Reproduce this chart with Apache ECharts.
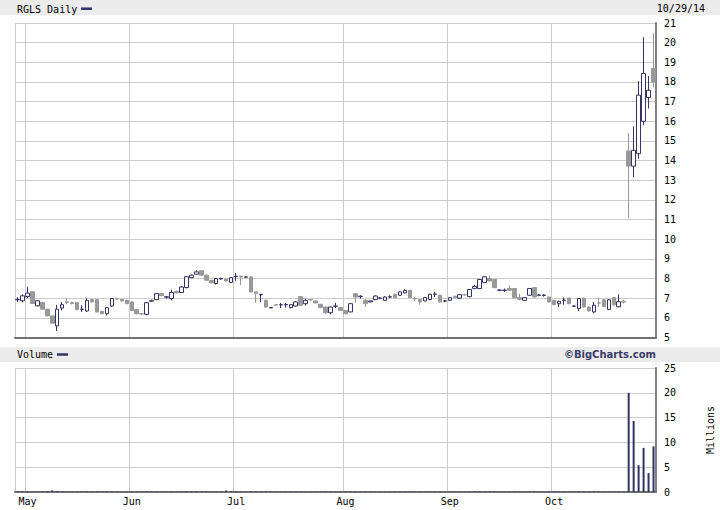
<!DOCTYPE html>
<html><head><meta charset="utf-8">
<script src="https://cdn.jsdelivr.net/npm/echarts@6/dist/echarts.min.js"></script>
<style>html,body{margin:0;padding:0;background:#fff}#c{width:720px;height:510px}</style>
</head><body><div id="c"></div>
<script>
const dates = [
'2014-04-29','2014-04-30',
'2014-05-01','2014-05-02','2014-05-05','2014-05-06','2014-05-07','2014-05-08','2014-05-09','2014-05-12','2014-05-13','2014-05-14','2014-05-15','2014-05-16','2014-05-19','2014-05-20','2014-05-21','2014-05-22','2014-05-23','2014-05-27','2014-05-28','2014-05-29','2014-05-30',
'2014-06-02','2014-06-03','2014-06-04','2014-06-05','2014-06-06','2014-06-09','2014-06-10','2014-06-11','2014-06-12','2014-06-13','2014-06-16','2014-06-17','2014-06-18','2014-06-19','2014-06-20','2014-06-23','2014-06-24','2014-06-25','2014-06-26','2014-06-27','2014-06-30',
'2014-07-01','2014-07-02','2014-07-03','2014-07-07','2014-07-08','2014-07-09','2014-07-10','2014-07-11','2014-07-14','2014-07-15','2014-07-16','2014-07-17','2014-07-18','2014-07-21','2014-07-22','2014-07-23','2014-07-24','2014-07-25','2014-07-28','2014-07-29','2014-07-30','2014-07-31',
'2014-08-01','2014-08-04','2014-08-05','2014-08-06','2014-08-07','2014-08-08','2014-08-11','2014-08-12','2014-08-13','2014-08-14','2014-08-15','2014-08-18','2014-08-19','2014-08-20','2014-08-21','2014-08-22','2014-08-25','2014-08-26','2014-08-27','2014-08-28','2014-08-29',
'2014-09-02','2014-09-03','2014-09-04','2014-09-05','2014-09-08','2014-09-09','2014-09-10','2014-09-11','2014-09-12','2014-09-15','2014-09-16','2014-09-17','2014-09-18','2014-09-19','2014-09-22','2014-09-23','2014-09-24','2014-09-25','2014-09-26','2014-09-29','2014-09-30',
'2014-10-01','2014-10-02','2014-10-03','2014-10-06','2014-10-07','2014-10-08','2014-10-09','2014-10-10','2014-10-13','2014-10-14','2014-10-15','2014-10-16','2014-10-17','2014-10-20','2014-10-21','2014-10-22','2014-10-23','2014-10-24','2014-10-27','2014-10-28','2014-10-29'
];
const opens = [
6.92,6.87,7.09,7.33,6.61,6.78,6.44,6.10,5.59,6.50,
6.82,6.78,6.77,6.43,6.35,6.93,6.93,6.33,6.21,6.60,
6.98,6.93,6.89,6.81,6.42,6.22,6.18,6.85,6.93,7.23,
7.05,6.98,7.35,7.29,7.54,8.05,8.22,8.40,8.17,7.91,
7.74,7.98,7.97,7.80,8.10,8.12,8.07,8.08,7.32,7.17,
6.89,6.51,6.67,6.66,6.66,6.52,6.60,7.08,6.72,6.93,
6.86,6.69,6.55,6.26,6.59,6.52,6.38,6.30,7.23,7.08,
6.89,6.81,6.93,7.00,6.89,7.06,7.20,7.15,7.27,7.40,
6.99,6.93,6.86,6.93,7.20,7.15,6.85,6.89,7.10,7.00,
7.18,7.08,7.50,7.49,7.80,8.00,7.95,7.40,7.40,7.49,
7.49,7.03,6.89,7.15,7.54,7.15,7.14,7.06,6.89,6.72,
6.89,7.00,6.59,6.47,7.00,6.55,6.30,6.76,6.92,6.42,
7.03,6.56,6.84,14.49,13.72,14.35,16.00,17.21,18.69
];
const closes = [
6.93,7.12,7.26,6.73,6.87,6.44,6.10,5.73,6.44,6.67,
6.79,6.73,6.42,6.44,6.89,6.81,6.30,6.21,6.52,6.98,
6.96,6.86,6.72,6.38,6.21,6.20,6.77,6.87,7.23,7.13,
7.07,7.29,7.27,7.57,8.09,8.17,8.34,8.17,7.91,7.78,
8.00,8.00,7.88,8.05,8.12,8.08,8.08,7.32,7.25,7.19,
6.55,6.52,6.65,6.67,6.68,6.67,6.81,6.64,6.89,6.91,
6.76,6.52,6.26,6.55,6.60,6.38,6.21,6.72,7.06,7.10,
6.72,6.86,7.11,7.01,7.06,7.07,7.03,7.32,7.40,7.03,
6.97,6.81,7.03,7.20,7.21,6.81,6.86,7.03,7.03,7.18,
7.17,7.44,7.60,7.95,8.09,7.88,7.54,7.41,7.41,7.40,
7.03,6.93,7.03,7.49,7.06,7.16,7.16,6.81,6.67,6.84,
6.90,6.72,6.60,6.98,6.55,6.35,6.64,6.75,6.58,6.92,
6.66,6.82,6.80,13.72,14.52,17.33,18.43,17.58,18.00
];
const lows = [
6.80,6.78,7.00,6.71,6.58,6.42,6.08,5.71,5.33,6.38,
6.70,6.68,6.38,6.30,6.30,6.78,6.28,6.18,6.12,6.55,
6.93,6.83,6.70,6.35,6.18,6.15,6.13,6.82,6.90,7.10,
6.98,6.89,7.25,7.27,7.50,8.02,8.20,8.15,7.88,7.75,
7.70,7.93,7.85,7.77,7.88,7.66,8.04,7.30,6.76,6.80,
6.52,6.48,6.62,6.50,6.52,6.48,6.57,6.62,6.62,6.88,
6.74,6.50,6.20,6.18,6.50,6.36,6.17,6.28,6.76,6.98,
6.55,6.79,6.90,6.95,6.86,7.00,7.00,7.12,7.25,7.00,
6.84,6.67,6.83,6.90,7.06,6.78,6.80,6.86,7.00,6.97,
7.13,7.05,7.45,7.46,7.77,7.85,7.50,7.36,7.32,7.37,
7.00,6.89,6.86,7.12,7.03,7.10,7.08,6.78,6.64,6.55,
6.67,6.70,6.55,6.35,6.52,6.32,6.25,6.55,6.55,6.40,
6.62,6.53,6.72,11.07,13.16,14.10,15.80,16.65,17.72
];
const highs = [
7.05,7.20,7.58,7.36,6.90,6.80,6.46,6.12,6.66,6.81,
6.96,6.82,6.80,6.64,6.98,6.96,6.96,6.36,6.55,7.00,
7.02,6.96,6.92,6.84,6.45,6.25,6.80,6.92,7.26,7.26,
7.10,7.44,7.38,7.60,8.12,8.20,8.42,8.43,8.20,7.93,
8.03,8.05,8.00,8.08,8.29,8.14,8.11,8.10,7.34,7.20,
6.92,6.55,6.70,6.76,6.76,6.70,6.84,7.12,6.98,6.96,
6.88,6.71,6.57,6.57,6.76,6.54,6.40,6.75,7.25,7.15,
6.96,6.88,7.15,7.06,7.10,7.15,7.22,7.35,7.46,7.42,
7.06,6.95,7.06,7.23,7.32,7.17,6.90,7.06,7.12,7.20,
7.22,7.47,7.68,7.98,8.12,8.17,7.98,7.45,7.49,7.66,
7.52,7.23,7.06,7.52,7.57,7.20,7.20,7.08,6.92,6.86,
7.03,7.03,6.64,7.00,7.03,6.57,6.81,7.03,6.95,6.95,
7.03,7.20,6.92,15.40,15.74,18.04,20.27,18.30,20.50
];
const volumes = [
0.12,0.10,0.14,0.11,0.09,0.13,0.15,0.32,0.18,0.12,
0.08,0.07,0.10,0.09,0.11,0.08,0.10,0.09,0.12,0.10,
0.07,0.06,0.08,0.09,0.10,0.08,0.12,0.09,0.11,0.08,
0.07,0.10,0.08,0.11,0.14,0.12,0.13,0.10,0.09,0.08,
0.10,0.09,0.30,0.11,0.10,0.08,0.06,0.13,0.11,0.09,
0.10,0.08,0.07,0.06,0.07,0.08,0.09,0.10,0.08,0.07,
0.06,0.08,0.10,0.09,0.07,0.08,0.09,0.11,0.12,0.08,
0.09,0.07,0.08,0.06,0.07,0.08,0.07,0.09,0.08,0.10,
0.07,0.08,0.07,0.09,0.08,0.10,0.06,0.07,0.08,0.07,
0.06,0.09,0.10,0.12,0.11,0.09,0.10,0.08,0.07,0.08,
0.10,0.08,0.07,0.09,0.10,0.06,0.07,0.09,0.10,0.08,
0.07,0.09,0.08,0.11,0.10,0.09,0.10,0.08,0.07,0.09,
0.08,0.10,0.07,20.0,14.3,5.4,8.9,3.8,9.2
];
const monthStarts = ['2014-05-01','2014-06-02','2014-07-01','2014-08-01','2014-09-02','2014-10-01'];
const monthLabels = ['May','Jun','Jul','Aug','Sep','Oct'];
const priceMin = 5, priceMax = 21, priceStep = 1;
const volMin = 0, volMax = 25, volStep = 5;

const NAVY = '#333366', GRAY = '#999999', GRID = '#cccccc', MONO = 'DejaVu Sans Mono';
const candleData = dates.map((d, i) => [opens[i], closes[i], lows[i], highs[i]]);
const isSplit = (idx, val) => idx === 0 || monthStarts.indexOf(val) >= 0;

const chart = echarts.init(document.getElementById('c'), null, {renderer: 'svg'});
chart.setOption({
  animation: false,
  backgroundColor: '#ffffff',
  grid: [
    {left: 15, right: 64, top: 23, height: 314.5, outerBoundsMode: 'none', containLabel: false},
    {left: 15, right: 64, top: 368, height: 124, outerBoundsMode: 'none', containLabel: false}
  ],
  xAxis: [
    {type: 'category', gridIndex: 0, data: dates, boundaryGap: true,
     axisLine: {show: true, lineStyle: {color: '#707070', width: 2}},
     axisTick: {show: false}, axisLabel: {show: false},
     splitLine: {show: true, interval: isSplit, lineStyle: {color: GRID, width: 1}}},
    {type: 'category', gridIndex: 1, data: dates, boundaryGap: true,
     axisLine: {show: true, lineStyle: {color: '#707070', width: 2}},
     axisTick: {show: false},
     axisLabel: {show: true, interval: (idx, val) => monthStarts.indexOf(val) >= 0,
       formatter: v => monthLabels[monthStarts.indexOf(v)] || '',
       color: '#000', fontFamily: MONO, fontSize: 10, margin: 4},
     splitLine: {show: true, interval: isSplit, lineStyle: {color: GRID, width: 1}}}
  ],
  yAxis: [
    {type: 'value', gridIndex: 0, position: 'right', min: priceMin, max: priceMax, interval: priceStep,
     axisLine: {show: true, lineStyle: {color: '#808080', width: 2}},
     axisTick: {show: false},
     axisLabel: {color: '#000', fontFamily: MONO, fontSize: 10, margin: 8},
     splitLine: {show: true, lineStyle: {color: GRID, width: 1}}},
    {type: 'value', gridIndex: 1, position: 'right', min: volMin, max: volMax, interval: volStep,
     name: 'Millions', nameLocation: 'middle', nameRotate: 90, nameGap: 49,
     nameTextStyle: {color: '#000', fontFamily: MONO, fontSize: 10},
     axisLine: {show: true, lineStyle: {color: '#808080', width: 2}},
     axisTick: {show: false},
     axisLabel: {color: '#000', fontFamily: MONO, fontSize: 10, margin: 8},
     splitLine: {show: true, lineStyle: {color: GRID, width: 1}}}
  ],
  series: [
    {type: 'candlestick', xAxisIndex: 0, yAxisIndex: 0, data: candleData, barWidth: 4,
     itemStyle: {color: '#ffffff', color0: GRAY, borderColor: NAVY, borderColor0: GRAY, borderWidth: 1}},
    {type: 'bar', xAxisIndex: 1, yAxisIndex: 1, data: volumes, barWidth: 2,
     itemStyle: {color: NAVY}}
  ],
  graphic: [
    {type: 'rect', z: -10, shape: {x: 0, y: 0, width: 720, height: 15}, style: {fill: '#ececec'}},
    {type: 'rect', z: -10, shape: {x: 0, y: 347, width: 720, height: 15}, style: {fill: '#ececec'}},
    {type: 'text', x: 17, y: 9.5, style: {text: 'RGLS Daily', font: '10px "DejaVu Sans Mono"', fill: '#000', textVerticalAlign: 'middle'}},
    {type: 'line', shape: {x1: 81, y1: 8.7, x2: 92, y2: 8.7}, style: {stroke: NAVY, lineWidth: 2.5}},
    {type: 'text', x: 705, y: 8, style: {text: '10/29/14', font: '10px "DejaVu Sans Mono"', fill: '#000', textAlign: 'right', textVerticalAlign: 'middle'}},
    {type: 'text', x: 17, y: 354.5, style: {text: 'Volume', font: '10px "DejaVu Sans Mono"', fill: '#000', textVerticalAlign: 'middle'}},
    {type: 'line', shape: {x1: 57, y1: 354.5, x2: 68, y2: 354.5}, style: {stroke: NAVY, lineWidth: 2.5}},
    {type: 'text', x: 656, y: 354.5, style: {text: '\u00a9BigCharts.com', font: 'bold 10px "DejaVu Sans"', fill: '#3a3a6a', textAlign: 'right', textVerticalAlign: 'middle'}}
  ]
});
</script>
</body></html>
